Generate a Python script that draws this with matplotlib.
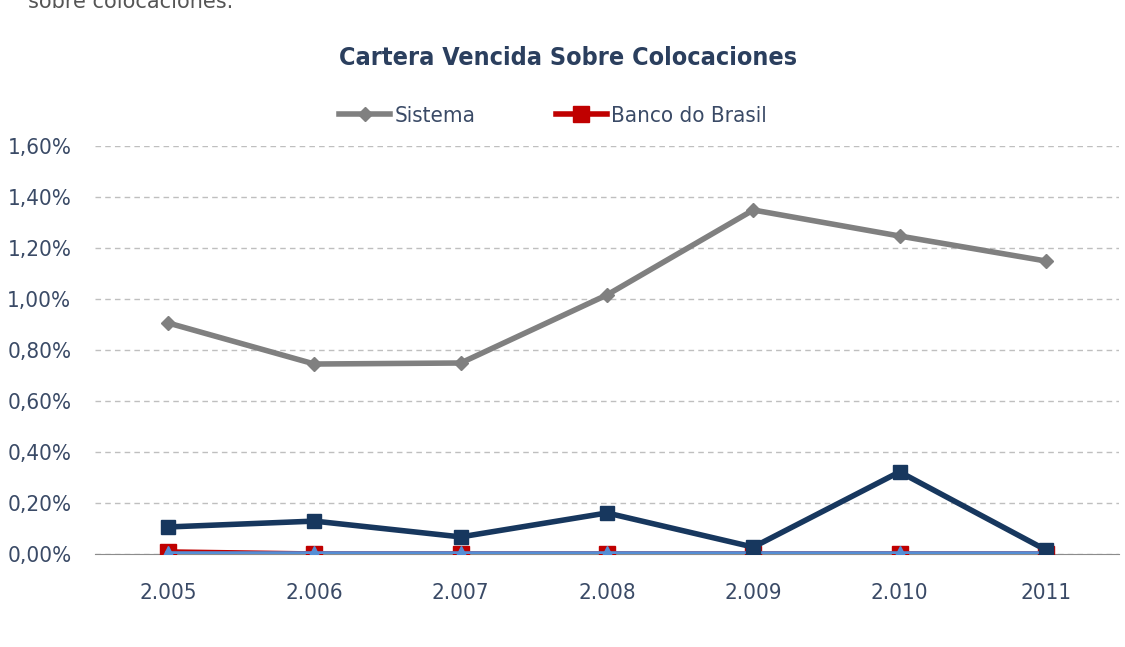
import matplotlib
matplotlib.use('Agg')
from matplotlib import pyplot as plt
from matplotlib import font_manager
from matplotlib.ticker import FuncFormatter

years = ['2.005', '2.006', '2.007', '2.008', '2.009', '2.010', '2011']
sistema = [0.906, 0.745, 0.749, 1.016, 1.349, 1.247, 1.149]
banco_brasil = [0.008, 0.0, 0.0, 0.0, 0.0, 0.0, 0.0]
serie_azul = [0.106, 0.129, 0.067, 0.161, 0.027, 0.322, 0.016]
serie_celeste = [0.0, 0.0, 0.0, 0.0, 0.0, 0.0, 0.0]
y_ticks = [0.0, 0.2, 0.4, 0.6, 0.8, 1.0, 1.2, 1.4, 1.6]

# look for a condensed face, otherwise plain DejaVu Sans
cond = [f for f in font_manager.fontManager.ttflist
        if f.stretch in ('condensed', 'semi-condensed', 'extra-condensed')
        or 'Narrow' in f.name or 'Condensed' in f.name]
cond_reg = [f.fname for f in cond if f.weight in (400, 'normal', 'regular') and f.style == 'normal']
cond_bold = [f.fname for f in cond if f.weight in (700, 'bold') and f.style == 'normal']


def fp(size, bold=False):
    if bold and cond_bold:
        return font_manager.FontProperties(fname=cond_bold[0], size=size)
    if cond_reg and not bold:
        return font_manager.FontProperties(fname=cond_reg[0], size=size)
    return font_manager.FontProperties(family='DejaVu Sans', size=size * 0.85,
                                       weight='bold' if bold else 'normal')


text_color = '#3A4A66'

fig = plt.figure(figsize=(11.25, 6.47), dpi=100)
ax = fig.add_axes([95 / 1125, 1 - 554 / 647, 1024 / 1125, 408 / 647])

x = list(range(len(years)))
ax.plot(x, sistema, color='#808080', lw=4, marker='D', ms=7, label='Sistema', zorder=3)
ax.plot(x, banco_brasil, color='#C00000', lw=4, marker='s', ms=11, label='Banco do Brasil', zorder=3)
ax.plot(x, serie_celeste, color='#558ED5', lw=4, marker='^', ms=11, zorder=4)
ax.plot(x, serie_azul, color='#17375E', lw=4, marker='s', ms=10, zorder=5)

ax.set_xlim(-0.5, len(years) - 0.5)
ax.set_ylim(0, 1.6)
ax.set_yticks(y_ticks)
ax.yaxis.set_major_formatter(FuncFormatter(lambda v, p: f'{v:.2f}%'.replace('.', ',')))
ax.set_xticks(x)
ax.set_xticklabels(years)
ax.tick_params(length=0, labelcolor=text_color)
ax.tick_params(axis='x', pad=21)
ax.tick_params(axis='y', pad=17)
for lab in ax.get_xticklabels() + ax.get_yticklabels():
    lab.set_fontproperties(fp(16))
ax.grid(axis='y', color='#BFBFBF', ls=(0, (4, 3)), lw=1)
ax.set_axisbelow(True)
for side in ['top', 'right', 'left']:
    ax.spines[side].set_visible(False)
ax.spines['bottom'].set_color('#8C8C8C')
ax.spines['bottom'].set_zorder(2)

fig.text(568 / 1125, 1 - 58 / 647, 'Cartera Vencida Sobre Colocaciones', ha='center', va='center',
         fontproperties=fp(18, bold=True), color='#2B3F5E')
fig.text(28 / 1125, 1 - 2 / 647, 'sobre colocaciones.', ha='left', va='center',
         fontsize=15, color='#555555')

leg = fig.legend(loc='center', bbox_to_anchor=(553 / 1125, 1 - 116 / 647), ncol=2,
                 frameon=False, handlelength=2.3, columnspacing=3.6,
                 handletextpad=0.2, prop=fp(16))
for t in leg.get_texts():
    t.set_color(text_color)

fig.savefig('out.png', dpi=100)
